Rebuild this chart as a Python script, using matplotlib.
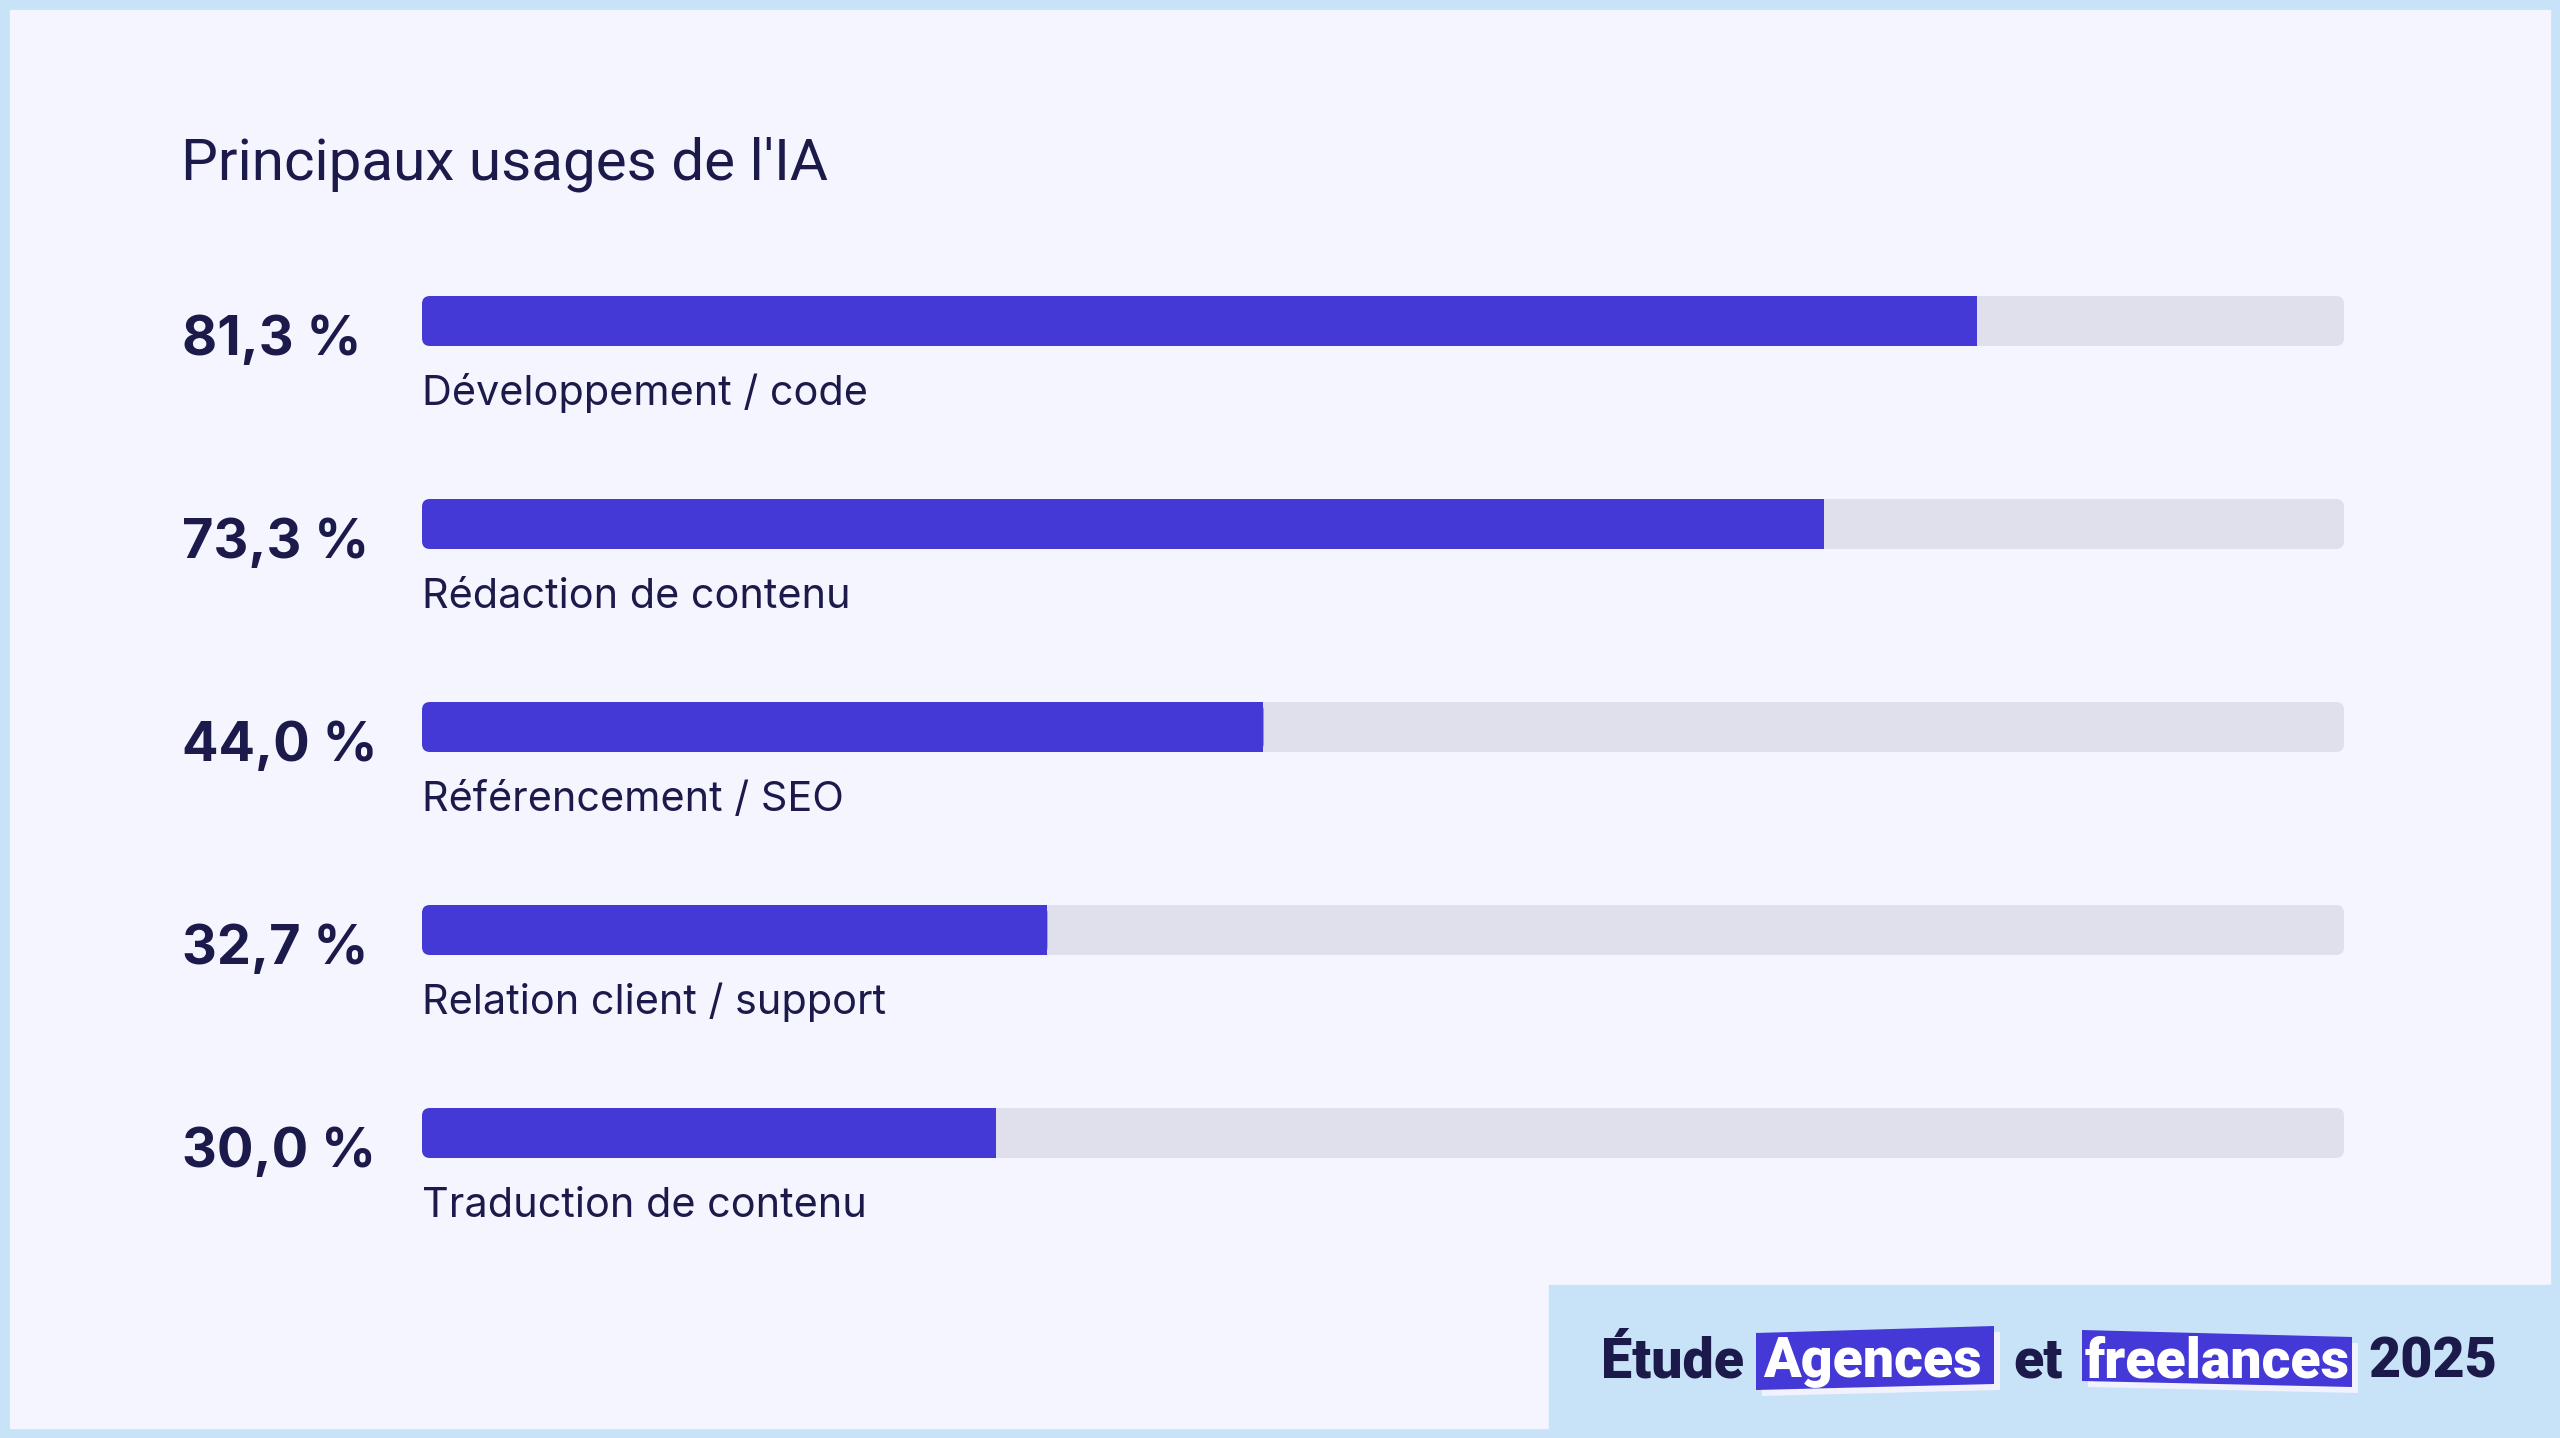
import matplotlib
matplotlib.use("Agg")
import matplotlib.pyplot as plt
import numpy as np
from matplotlib import transforms
from matplotlib.patches import Rectangle, FancyBboxPatch, Polygon

# ---------------- data ----------------
categories = ["Développement / code", "Rédaction de contenu", "Référencement / SEO",
              "Relation client / support", "Traduction de contenu"]
values = [81.3, 73.3, 44.0, 32.7, 30.0]
value_labels = ["81,3 %", "73,3 %", "44,0 %", "32,7 %", "30,0 %"]
title = "Principaux usages de l'IA"
badge_words = ["Étude", "Agences", "et", "freelances", "2025"]
badge_highlight = [False, True, False, True, False]

# ---------------- style ----------------
W, H = 2560, 1438
BORDER = "#C8E2F8"
PANEL = "#F4F5FE"
TRACK = "#E0DFEC"
BAR = "#4438D6"
TEXT = "#1C1A4A"
SHADOW = "#F1F2FD"
FONT = ["Inter", "DejaVu Sans"]
SCALE_MAX = 100.5  # full track extent on the value axis

plt.rcParams["font.family"] = FONT

fig = plt.figure(figsize=(W / 100, H / 100), dpi=100)
fig.patch.set_facecolor(BORDER)

# decoration axes in pixel coordinates
deco = fig.add_axes([0, 0, 1, 1], zorder=0)
deco.set_xlim(0, W)
deco.set_ylim(H, 0)
deco.axis("off")
deco.add_patch(Rectangle((10, 10), W - 20, H - 20, color=PANEL, zorder=0))
deco.add_patch(Rectangle((1549, 1285), W - 1549, H - 1285, color=BORDER, zorder=1))

# title
deco.text(181, 180, title, fontsize=42, fontweight="normal", color=TEXT,
          va="baseline", ha="left", family=["Roboto", "DejaVu Sans"])

# ---------------- bars ----------------
row_px = 203.0
first_center = 321.0
n = len(values)
top_px = first_center - row_px / 2
left_px, right_px = 422.0, 2344.0
ax = fig.add_axes([left_px / W, 1 - (top_px + n * row_px) / H,
                   (right_px - left_px) / W, n * row_px / H], zorder=2)
ax.patch.set_alpha(0)
ax.set_xlim(0, SCALE_MAX)
ax.set_ylim(n - 0.5, -0.5)
ax.axis("off")

y = np.arange(n)
bar_h = 50 / row_px
r_px = 8
xunit_per_px = SCALE_MAX / (right_px - left_px)
yunit_per_px = 1 / row_px
rs = r_px * xunit_per_px
aspect = yunit_per_px / xunit_per_px

tracks = ax.barh(y, [SCALE_MAX] * n, height=bar_h, color=TRACK)
fills = ax.barh(y, values, height=bar_h, color=BAR)
for b in list(tracks) + list(fills):
    b.set_visible(False)

for b in tracks:
    x0, y0, w, h = b.get_x(), b.get_y(), b.get_width(), b.get_height()
    ax.add_patch(FancyBboxPatch((x0, y0), w, h,
                                boxstyle=f"round,pad=0,rounding_size={rs}",
                                mutation_aspect=aspect, fc=TRACK, ec="none", zorder=1))
for b in fills:
    x0, y0, w, h = b.get_x(), b.get_y(), b.get_width(), b.get_height()
    ax.add_patch(FancyBboxPatch((x0, y0), w, h,
                                boxstyle=f"round,pad=0,rounding_size={rs}",
                                mutation_aspect=aspect, fc=BAR, ec="none", zorder=2))
    ax.add_patch(Rectangle((x0 + w / 2, y0), w / 2, h, fc=BAR, ec="none", zorder=2))

# row labels
blend = transforms.blended_transform_factory(fig.transFigure, ax.transData)
t_val = transforms.offset_copy(blend, fig=fig, x=0, y=-34, units="dots")
t_cat = transforms.offset_copy(blend, fig=fig, x=0, y=-84, units="dots")
for i in range(n):
    ax.text(182 / W, y[i], value_labels[i], transform=t_val, fontsize=39,
            fontweight="bold", color=TEXT, va="baseline", ha="left")
    ax.text(left_px / W, y[i], categories[i], transform=t_cat, fontsize=29.8,
            color=TEXT, va="baseline", ha="left")

# ---------------- badge ----------------
word_x = [1601, 1763, 2013, 2085, 2368]
baseline = 1377
boxes = {
    1: [(1756, 1333), (1994, 1326), (1994, 1384), (1756, 1390)],
    3: [(2082, 1330), (2352, 1337), (2352, 1387), (2082, 1381)],
}
for i, pts in boxes.items():
    sh = [(px + 6, py + 6) for px, py in pts]
    deco.add_patch(Polygon(sh, closed=True, fc=SHADOW, ec="none", zorder=2))
    deco.add_patch(Polygon(pts, closed=True, fc=BAR, ec="none", zorder=3))
for i, wtxt in enumerate(badge_words):
    deco.text(word_x[i], baseline, wtxt, fontsize=40, fontweight="black",
              color="white" if badge_highlight[i] else TEXT,
              va="baseline", ha="left", zorder=4, family=["Roboto", "DejaVu Sans"])

fig.savefig("out.png", dpi=100, facecolor=fig.get_facecolor())
